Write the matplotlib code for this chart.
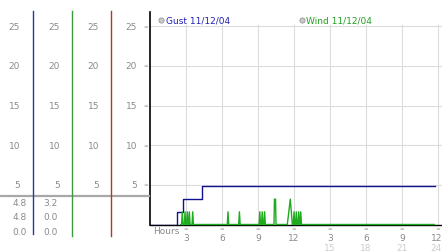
import matplotlib
matplotlib.use('Agg')
import matplotlib.pyplot as plt
from matplotlib.transforms import blended_transform_factory, offset_copy

# gust readings (hours, mph), stepwise
gust_hours = [0, 2.25, 2.78, 4.35, 23.75]
gust_mph = [0, 1.6, 3.2, 4.8, 4.8]

# wind readings (hours, mph)
wind_hours = [2.55, 2.63, 2.69, 2.75, 2.86, 2.92, 2.98, 3.05, 3.11, 3.17,
              3.22, 3.28, 3.34, 3.50, 3.56, 3.62, 6.44, 6.50, 6.56, 7.39,
              7.45, 7.51, 9.09, 9.15, 9.21, 9.29, 9.35, 9.41, 9.49, 9.55,
              9.61, 10.33, 10.37, 10.46, 10.50, 11.44, 11.69, 11.86, 11.94, 12.00,
              12.06, 12.13, 12.19, 12.25, 12.33, 12.39, 12.45, 12.50, 12.56, 12.62,
              23.70]
wind_mph = [0, 0, 1.6, 0, 0, 1.6, 0, 0, 1.6, 0,
            0, 1.6, 0, 0, 1.6, 0, 0, 1.6, 0, 0,
            1.6, 0, 0, 1.6, 0, 0, 1.6, 0, 0, 1.6,
            0, 0, 3.2, 3.2, 0, 0, 3.2, 0, 0, 1.6,
            0, 0, 1.6, 0, 0, 1.6, 0, 0, 1.6, 0,
            0]

y_ticks = [5, 10, 15, 20, 25]
hour_ticks = [3, 6, 9, 12, 15, 18, 21, 24]
labels_12h = ['3', '6', '9', '12', '3', '6', '9', '12']
labels_24h = ['', '', '', '', '15', '18', '21', '24']

gust_stats = ['4.8', '4.8', '0.0']
wind_stats = ['3.2', '0.0', '0.0']

W, H = 442, 253
fig = plt.figure(figsize=(W / 100, H / 100), dpi=100)
fig.patch.set_facecolor('white')

# main plot
ax = fig.add_axes([150 / W, 1 - 225.5 / H, 292 / W, 212.5 / H])
ax.set_xlim(0, 24.33)
ax.set_ylim(0, 26.8)
ax.set_xticks([])
ax.set_yticks([])
for s in ['top', 'right']:
    ax.spines[s].set_visible(False)
ax.spines['left'].set_linewidth(1.2)
ax.spines['bottom'].set_linewidth(1.0)
ax.spines['bottom'].set_zorder(1)

grid_col = '#dcdcdc'
for v in y_ticks:
    ax.axhline(v, color=grid_col, lw=0.8, zorder=0)
ax.vlines(hour_ticks, 0, 25.3, color=grid_col, lw=0.8, zorder=0)

ax.plot(gust_hours, gust_mph, color='#101090', lw=1.0, drawstyle='steps-post', zorder=3)
ax.plot(wind_hours, wind_mph, color='#1faa1f', lw=1.0, zorder=4, clip_on=False)

# overlay in pixel coordinates for the side panel and labels
ov = fig.add_axes([0, 0, 1, 1], zorder=5)
ov.set_xlim(0, W)
ov.set_ylim(H, 0)
ov.axis('off')
ov.patch.set_alpha(0)

py = blended_transform_factory(ov.transData, ax.transData)
px = blended_transform_factory(ax.transData, ov.transData)

num_col = '#8a8a8a'
fs = 6.5

# side panel columns
col_right = [20, 60, 99, 137]
for v in y_ticks:
    for xr in col_right:
        ov.text(xr, v, str(v), transform=py, ha='right', va='center',
                fontsize=fs, color=num_col)
    ov.text(145.5, v, '\u2248', transform=py, ha='center', va='center',
            fontsize=4, color='#9a9a9a')

ov.plot([0, 149], [197, 197], color='#a8a8a8', lw=1.6)
ov.plot([33.3, 33.3], [12, 235], color='#203c98', lw=1.0)
ov.plot([72.3, 72.3], [12, 237], color='#3a9a3a', lw=1.0)
ov.plot([111, 111], [12, 237], color='#b83030', lw=1.0)

stat_rows = [204, 218, 232.5]
for yr, g, w in zip(stat_rows, gust_stats, wind_stats):
    ov.text(27, yr, g, ha='right', va='center', fontsize=fs, color=num_col)
    ov.text(58, yr, w, ha='right', va='center', fontsize=fs, color=num_col)

# legend entries
ov.scatter([161, 301.5], [21, 21], s=14, color='#c8c8c8', edgecolor='#999999', lw=0.6)
ov.text(165.5, 21, 'Gust 11/12/04', ha='left', va='center', fontsize=fs, color='#2020b8')
ov.text(306, 21, 'Wind 11/12/04', ha='left', va='center', fontsize=fs, color='#20a020')

# x axis labels
ov.text(153, 231.5, 'Hours', ha='left', va='center', fontsize=fs, color=num_col)
for h, a, b in zip(hour_ticks, labels_12h, labels_24h):
    ov.text(h, 229.5, '\u2248', transform=px, ha='center', va='center',
            fontsize=4, color='#9a9a9a')
    # the last labels sit at the right edge, keep them inside the figure
    ha = 'right' if h == hour_ticks[-1] else 'center'
    tr = offset_copy(px, fig=fig, x=4 if ha == 'right' else 0, y=0, units='dots')
    ov.text(h, 238.5, a, transform=tr, ha=ha, va='center',
            fontsize=fs, color=num_col)
    if b:
        ov.text(h, 248.5, b, transform=tr, ha=ha, va='center',
                fontsize=fs, color='#cccccc')

fig.savefig('out.png', dpi=100)
